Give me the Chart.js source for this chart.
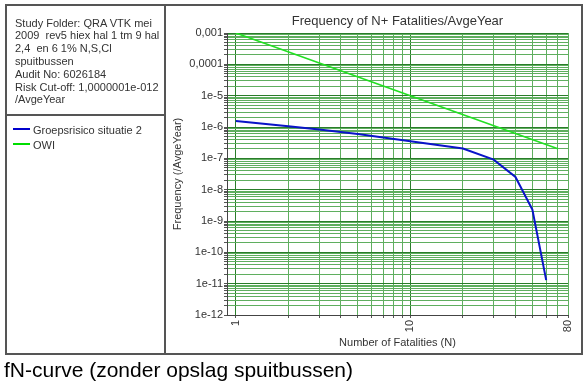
<!DOCTYPE html>
<html><head><meta charset="utf-8">
<script src="https://cdn.jsdelivr.net/npm/chart.js@4.4.0/dist/chart.umd.min.js"></script>
<style>
html,body{margin:0;padding:0;background:#fff;width:588px;height:391px;overflow:hidden;font-family:"Liberation Sans",Arial,sans-serif;}
#c{position:absolute;left:0;top:0;}
.ln{position:absolute;background:#555;}
.t{position:absolute;white-space:pre;color:#333;font-size:11px;}
</style></head><body>
<canvas id="c" width="588" height="391"></canvas>
<div class="ln" style="left:5px;top:4px;width:578px;height:2px"></div>
<div class="ln" style="left:5px;top:353px;width:578px;height:2px"></div>
<div class="ln" style="left:5px;top:4px;width:2px;height:351px"></div>
<div class="ln" style="left:581px;top:4px;width:2px;height:351px"></div>
<div class="ln" style="left:164px;top:4px;width:2px;height:351px"></div>
<div class="ln" style="left:5px;top:114px;width:160px;height:2px"></div>
<div class="t" style="left:15px;top:16.6px;line-height:12.8px">Study Folder: QRA VTK mei
2009  rev5 hiex hal 1 tm 9 hal
2,4  en 6 1% N,S,Cl
spuitbussen
Audit No: 6026184
Risk Cut-off: 1,0000001e-012
/AvgeYear</div>
<div style="position:absolute;left:13px;top:128px;width:17px;height:2px;background:#0000cc"></div>
<div class="t" style="left:33px;top:124px;line-height:13px">Groepsrisico situatie 2</div>
<div style="position:absolute;left:13px;top:142.5px;width:17px;height:2px;background:#00dd00"></div>
<div class="t" style="left:33px;top:138.5px;line-height:13px">OWI</div>
<div class="t" style="left:227px;width:341px;text-align:center;top:13px;font-size:13px;line-height:15px">Frequency of N+ Fatalities/AvgeYear</div>
<div class="t" style="left:4px;top:359px;font-size:21px;line-height:21px;color:#000">fN-curve (zonder opslag spuitbussen)</div>
<script>
// Data
const groepsN    = [1, 2, 3, 5, 10, 20, 30, 40, 50, 60];
const groepsFreq = [1.55e-6, 1.05e-6, 8.3e-7, 6.0e-7, 3.5e-7, 2.06e-7, 9.1e-8, 2.55e-8, 2.3e-9, 1.3e-11];
const owiN       = [1, 10, 70];
const owiFreq    = [1e-3, 1e-5, 2.04e-7];
const seriesNames = ['Groepsrisico situatie 2', 'OWI'];

const yTickValues = [1e-12,1e-11,1e-10,1e-9,1e-8,1e-7,1e-6,1e-5,1e-4,1e-3];
const yTickLabels = ['1e-12','1e-11','1e-10','1e-9','1e-8','1e-7','1e-6','1e-5','0,0001','0,001'];
const xTickValues = [1, 10, 80];
const xTickLabels = ['1', '10', '80'];

// grid positions (1..9 per decade)
const yGrid = [];
for (let e = -12; e <= -4; e++) for (let m = 1; m <= 9; m++) yGrid.push(+(m + 'e' + e));
yGrid.push(1e-3);
const xGrid = [];
for (let m = 1; m <= 9; m++) xGrid.push(m);
for (let m = 10; m <= 80; m += 10) xGrid.push(m);

function near(a, b) { return Math.abs(Math.log10(a) - Math.log10(b)) < 1e-6; }
function labelFor(vals, labs, v) {
  for (let i = 0; i < vals.length; i++) if (near(vals[i], v)) return labs[i];
  return '';
}
function isDecade(v) { const l = Math.log10(v); return Math.abs(l - Math.round(l)) < 1e-6; }
const gridColor = c => (c.tick && isDecade(c.tick.value)) ? '#2a7d2a' : '#5fae5f';

new Chart(document.getElementById('c'), {
  type: 'line',
  data: {
    datasets: [
      { label: seriesNames[0], data: groepsN.map((n, i) => ({x: n, y: groepsFreq[i]})),
        borderColor: '#0a14c8', borderWidth: 2, pointRadius: 0, tension: 0, fill: false },
      { label: seriesNames[1], data: owiN.map((n, i) => ({x: n, y: owiFreq[i]})),
        borderColor: '#22e022', borderWidth: 1.6, pointRadius: 0, tension: 0, fill: false }
    ]
  },
  options: {
    responsive: false, animation: false, devicePixelRatio: 1,
    layout: { padding: { left: 167, top: 33, right: 20, bottom: 36 } },
    plugins: { legend: { display: false }, tooltip: { enabled: false }, title: { display: false } },
    scales: {
      x: {
        type: 'logarithmic', min: 0.89, max: 80,
        afterFit: s => { s.height = 40; },
        afterBuildTicks: s => { s.ticks = xGrid.map(v => ({value: v})); },
        ticks: { autoSkip: false, maxRotation: 90, minRotation: 90, padding: 2,
                 color: '#333', font: { family: '"Liberation Sans", Arial', size: 11 },
                 callback: v => labelFor(xTickValues, xTickLabels, v) },
        grid: { color: gridColor, lineWidth: 1, tickLength: 3, tickColor: '#555' },
        border: { color: '#444', width: 1 },
        title: { display: true, text: 'Number of Fatalities (N)', color: '#333',
                 font: { family: '"Liberation Sans", Arial', size: 11 }, padding: { top: 0, bottom: 5 } }
      },
      y: {
        type: 'logarithmic', min: 1e-12, max: 1e-3,
        afterFit: s => { s.width = 60; },
        afterBuildTicks: s => { s.ticks = yGrid.map(v => ({value: v})); },
        ticks: { autoSkip: false, padding: 1, color: '#333',
                 font: { family: '"Liberation Sans", Arial', size: 11 },
                 callback: v => labelFor(yTickValues, yTickLabels, v) },
        grid: { color: gridColor, lineWidth: 1, tickLength: 3, tickColor: '#555' },
        border: { color: '#444', width: 1 },
        title: { display: true, text: 'Frequency (/AvgeYear)', color: '#333',
                 font: { family: '"Liberation Sans", Arial', size: 11 }, padding: { top: 4, bottom: 0 } }
      }
    }
  }
});
</script>
</body></html>
